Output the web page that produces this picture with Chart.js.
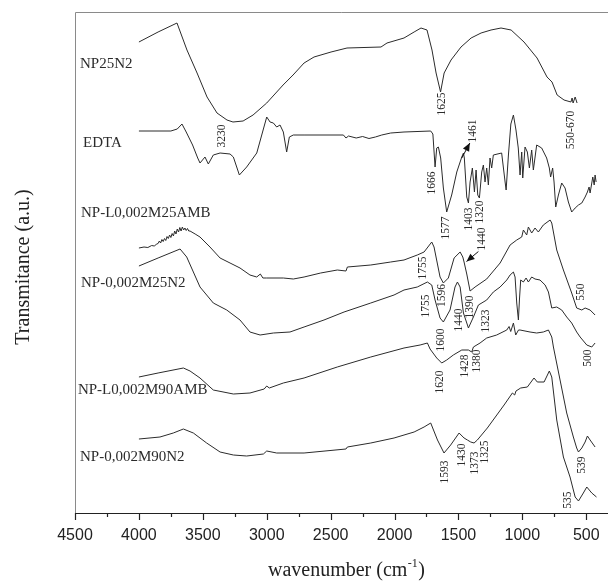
<!DOCTYPE html>
<html>
<head>
<meta charset="utf-8">
<script src="https://cdn.jsdelivr.net/npm/chart.js@4.4.0/dist/chart.umd.min.js"></script>
<style>
  html, body { margin: 0; padding: 0; background: #fff; }
</style>
</head>
<body>
<canvas id="ftir" width="608" height="583"></canvas>
<script>
"use strict"

/*----------------------------- data -------------------------------------------*/

let sampleNames = ["NP25N2", "EDTA", "NP-L0,002M25AMB", "NP-0,002M25N2", "NP-L0,002M90AMB", "NP-0,002M90N2"]

// NP25N2
let np25n2Wn = [4000, 3850, 3702, 3624, 3545, 3467, 3389, 3311, 3264, 3185, 3107, 3000, 2872, 2794, 2708, 2630, 2497, 2372, 2106, 2059, 1926, 1847, 1793, 1746, 1707, 1675, 1640, 1612, 1558, 1480, 1401, 1323, 1245, 1167, 1088, 987, 885, 807, 768, 728, 674, 620, 611, 603, 587, 572]
let np25n2T = [94.2, 96.2, 98.0, 92.6, 88.0, 83.2, 80.0, 78.6, 78.2, 78.4, 79.6, 82.0, 85.6, 87.6, 90.0, 91.2, 92.2, 93.0, 93.2, 94.0, 95.0, 96.2, 97.0, 96.6, 92.6, 88.0, 84.2, 88.0, 90.6, 93.2, 95.0, 96.0, 96.6, 97.0, 96.6, 94.2, 91.0, 87.2, 86.2, 83.6, 82.6, 82.2, 83.0, 82.0, 83.2, 82.0]

// EDTA
let edtaWn = [4000, 3750, 3700, 3663, 3630, 3580, 3540, 3522, 3483, 3457, 3418, 3365, 3287, 3261, 3214, 3157, 3078, 3000, 2974, 2948, 2922, 2896, 2870, 2844, 2823, 2792, 2708, 2400, 2380, 2360, 2300, 2250, 2200, 2150, 2100, 2030, 1926, 1717, 1700, 1683, 1670, 1657, 1639, 1618, 1592, 1553, 1513, 1474, 1461, 1454, 1435, 1422, 1409, 1391, 1375, 1362, 1349, 1336, 1318, 1305, 1292, 1279, 1266, 1253, 1240, 1227, 1162, 1135, 1127, 1109, 1090, 1070, 1050, 1032, 1018, 1005, 997, 979, 961, 945, 927, 914, 888, 849, 810, 789, 779, 763, 752, 739, 718, 692, 666, 640, 614, 587, 561, 535, 509, 491, 478, 470, 449, 438, 431, 423]
let edtaT = [76.4, 76.4, 76.8, 77.8, 76.2, 73.6, 71.0, 70.0, 71.2, 69.8, 71.6, 72.0, 71.8, 71.2, 67.6, 69.2, 72.0, 79.2, 78.2, 78.0, 77.2, 77.6, 76.2, 72.2, 75.2, 75.6, 75.6, 75.6, 75.0, 75.4, 75.0, 75.3, 74.9, 75.2, 75.6, 76.0, 76.2, 76.4, 75.8, 69.2, 73.0, 73.2, 71.0, 65.0, 60.2, 63.6, 68.2, 71.2, 72.0, 71.0, 63.2, 62.0, 66.2, 69.0, 64.2, 68.6, 63.6, 63.0, 68.2, 69.6, 66.2, 69.0, 65.6, 71.0, 69.0, 71.6, 72.0, 66.2, 64.6, 71.6, 77.8, 79.6, 76.6, 73.0, 67.6, 72.2, 67.0, 73.2, 72.2, 69.0, 72.6, 68.6, 73.6, 73.0, 71.0, 69.0, 67.2, 69.0, 66.2, 61.2, 63.6, 66.0, 65.0, 62.2, 60.2, 61.0, 61.6, 62.0, 63.2, 64.2, 65.2, 64.0, 67.2, 65.6, 67.6, 66.2]

// NP-L0,002M25AMB
let m25ambWn = [4000, 3960, 3930, 3900, 3880, 3860, 3850, 3840, 3830, 3820, 3810, 3800, 3790, 3780, 3770, 3760, 3750, 3740, 3730, 3720, 3710, 3700, 3690, 3680, 3670, 3660, 3650, 3640, 3630, 3620, 3610, 3600, 3560, 3522, 3444, 3365, 3287, 3209, 3131, 3078, 3050, 3030, 3000, 2870, 2792, 2708, 2578, 2448, 2380, 2369, 2186, 2030, 1926, 1822, 1769, 1709, 1691, 1644, 1618, 1579, 1534, 1487, 1466, 1456, 1435, 1409, 1370, 1279, 1174, 1096, 1044, 1005, 992, 966, 953, 927, 901, 875, 836, 783, 770, 731, 679, 614, 575, 535, 509, 470, 431]
let m25ambT = [53.0, 53.2, 53.1, 53.5, 53.4, 53.8, 53.9, 54.4, 54.0, 54.7, 54.3, 54.9, 54.5, 55.3, 54.9, 55.6, 55.1, 55.9, 55.4, 56.4, 55.8, 56.8, 56.2, 57.1, 56.4, 57.2, 56.6, 57.0, 56.5, 56.9, 56.4, 56.4, 55.8, 55.2, 53.2, 51.0, 50.0, 49.0, 47.6, 47.2, 47.8, 47.0, 47.0, 47.0, 46.8, 47.2, 48.0, 48.6, 48.4, 49.2, 49.6, 50.2, 50.6, 51.6, 52.2, 54.2, 53.2, 47.2, 46.0, 47.0, 51.0, 52.2, 51.2, 50.2, 47.8, 44.4, 45.2, 46.8, 50.0, 53.6, 54.6, 55.2, 56.6, 55.6, 57.2, 56.0, 57.0, 56.2, 57.6, 58.6, 58.0, 52.6, 48.6, 44.0, 41.0, 40.6, 41.0, 40.6, 39.6]

// NP-0,002M25N2
let m25n2Wn = [4000, 3850, 3678, 3626, 3522, 3418, 3313, 3209, 3131, 3052, 2948, 2818, 2708, 2552, 2395, 2186, 2004, 1926, 1822, 1743, 1709, 1683, 1644, 1618, 1566, 1527, 1508, 1487, 1461, 1422, 1383, 1344, 1279, 1227, 1174, 1122, 1096, 1070, 1057, 1044, 1031, 1023, 1013, 992, 971, 953, 927, 901, 862, 822, 796, 770, 731, 692, 653, 614, 575, 548, 496, 457, 431]
let m25n2T = [49.4, 51.0, 52.8, 51.2, 45.2, 42.0, 40.6, 38.6, 36.2, 35.6, 36.0, 36.2, 37.2, 38.6, 40.2, 42.0, 43.6, 44.6, 45.2, 46.2, 45.6, 42.6, 39.0, 38.2, 40.6, 45.2, 46.2, 45.2, 40.0, 37.0, 39.2, 41.6, 42.6, 44.2, 45.2, 46.6, 47.6, 48.2, 47.2, 42.0, 38.6, 42.6, 46.6, 46.2, 47.0, 46.2, 47.2, 46.8, 46.6, 45.6, 44.2, 41.0, 41.2, 40.6, 39.2, 38.0, 36.2, 35.2, 33.6, 33.2, 34.0]

// NP-L0,002M90AMB
let m90ambWn = [4000, 3850, 3652, 3600, 3522, 3418, 3261, 3131, 3020, 3000, 2980, 2870, 2708, 2448, 2186, 1926, 1800, 1743, 1722, 1670, 1631, 1592, 1540, 1474, 1422, 1396, 1383, 1331, 1279, 1201, 1122, 1104, 1091, 1070, 1052, 1030, 1018, 940, 888, 836, 796, 770, 757, 705, 653, 601, 575, 561, 535, 509, 491, 470, 431]
let m90ambT = [27.2, 28.0, 29.0, 28.4, 27.0, 24.6, 23.8, 24.0, 24.8, 25.4, 25.0, 26.0, 27.0, 29.2, 31.2, 33.0, 33.6, 34.0, 32.8, 31.0, 30.0, 30.6, 31.6, 32.6, 32.6, 32.2, 33.2, 34.0, 35.0, 35.6, 36.6, 37.3, 36.3, 38.0, 35.6, 36.6, 36.6, 36.2, 36.0, 36.2, 36.6, 35.2, 33.2, 26.6, 20.0, 15.2, 13.0, 12.2, 13.0, 14.2, 15.4, 14.6, 13.2]

// NP-0,002M90N2
let m90n2Wn = [4000, 3835, 3731, 3652, 3574, 3470, 3365, 3261, 3157, 3026, 3000, 2922, 2708, 2380, 2369, 2186, 2004, 1847, 1769, 1717, 1664, 1613, 1561, 1495, 1456, 1430, 1404, 1378, 1352, 1274, 1143, 1078, 1060, 1050, 1013, 961, 909, 883, 830, 789, 770, 731, 679, 627, 587, 561, 523, 496, 457, 420]
let m90n2T = [14.8, 15.2, 16.0, 16.8, 16.0, 14.0, 12.2, 11.6, 11.4, 11.8, 12.4, 12.0, 12.0, 12.8, 13.2, 14.0, 15.0, 16.2, 17.2, 18.0, 14.6, 12.0, 13.6, 16.0, 15.0, 14.6, 14.2, 14.0, 14.6, 17.0, 21.6, 24.0, 23.6, 24.4, 25.0, 25.2, 27.0, 26.2, 26.2, 28.4, 27.2, 18.6, 11.2, 7.2, 3.2, 2.4, 4.0, 5.2, 4.0, 3.2]

let tickValues = [4500, 4000, 3500, 3000, 2500, 2000, 1500, 1000, 500]

// peak labels and where they sit (wavenumber, transmittance)
let peakLabels = ["3230", "1625", "550-670", "1666", "1461", "1577", "1403", "1320", "1440", "1755", "1596", "1390", "1755", "1440", "1323", "550", "1600", "1428", "1380", "500", "1620", "1593", "1430", "1373", "1325", "539", "535"]
let peakLabelPos = [[3350, 75.4], [1628, 81.8], [619, 76.6], [1709, 66.0], [1383, 76.4], [1597, 57.0], [1415, 58.8], [1331, 60.2], [1318, 54.8], [1780, 49.0], [1628, 43.5], [1407, 41.2], [1756, 41.4], [1495, 38.6], [1286, 38.4], [543, 44.2], [1639, 34.6], [1452, 29.4], [1357, 30.4], [484, 31.0], [1644, 26.2], [1605, 8.2], [1474, 11.6], [1370, 10.0], [1292, 12.2], [535, 9.6], [640, 2.6]]

// sample name positions (left edge wavenumber, transmittance)
let sampleLabelPos = [[4461, 89.8], [4437, 74.0], [4453, 60.0], [4453, 46.0], [4477, 24.6], [4461, 11.2]]

// arrows [from wn, from T, to wn, to T]
let arrows = [[1474, 71.0, 1411, 74.0], [1344, 52.3, 1437, 50.3]]

/*----------------------------- chart -------------------------------------------*/

function toPoints(wn, t) { //slår ihop x och y
    let pts = []
    for (let i = 0; i < Math.min(wn.length, t.length); i++) {
        pts.push({ x: wn[i], y: t[i] })
    }
    return pts
}

let seriesWn = [np25n2Wn, edtaWn, m25ambWn, m25n2Wn, m90ambWn, m90n2Wn]
let seriesT = [np25n2T, edtaT, m25ambT, m25n2T, m90ambT, m90n2T]

let datasets = []
for (let s = 0; s < sampleNames.length; s++) {
    datasets.push({
        label: sampleNames[s],
        data: toPoints(seriesWn[s], seriesT[s]),
        borderColor: "#2b2b2b",
        borderWidth: 1,
        pointRadius: 0,
        tension: 0,
        fill: false
    })
}

const serif = '"Liberation Serif", "Times New Roman", serif'

const ftirExtras = {
    id: "ftirExtras",
    afterDraw(chart) {
        const { ctx, chartArea: a, scales: { x, y } } = chart
        ctx.save()

        // ram vänster + topp
        ctx.strokeStyle = "#8a8a8a"
        ctx.lineWidth = 1
        ctx.beginPath()
        ctx.moveTo(a.left + 0.5, a.bottom)
        ctx.lineTo(a.left + 0.5, a.top + 0.5)
        ctx.lineTo(a.right, a.top + 0.5)
        ctx.stroke()

        // x-axel
        ctx.strokeStyle = "#222"
        ctx.lineWidth = 1.2
        ctx.beginPath()
        ctx.moveTo(a.left, a.bottom + 0.5)
        ctx.lineTo(a.right, a.bottom + 0.5)
        ctx.stroke()

        // tick marks
        for (let w = 4500; w >= 500; w -= 250) {
            const px = Math.round(x.getPixelForValue(w)) + 0.5
            const len = w % 500 === 0 ? 7 : 4
            ctx.beginPath()
            ctx.moveTo(px, a.bottom)
            ctx.lineTo(px, a.bottom + len)
            ctx.stroke()
        }

        // tick labels
        ctx.fillStyle = "#222"
        ctx.font = '16px "Liberation Sans", Arial, sans-serif'
        ctx.textAlign = "center"
        ctx.textBaseline = "middle"
        for (const v of tickValues) {
            ctx.fillText(String(v), x.getPixelForValue(v), 536)
        }

        ctx.fillStyle = "#2b2b2b"

        // sample names
        ctx.font = "15px " + serif
        ctx.textAlign = "left"
        ctx.textBaseline = "middle"
        for (let i = 0; i < sampleNames.length; i++) {
            ctx.fillText(sampleNames[i], x.getPixelForValue(sampleLabelPos[i][0]), y.getPixelForValue(sampleLabelPos[i][1]))
        }

        // peak labels (vertical)
        ctx.font = "11.5px " + serif
        ctx.textAlign = "center"
        for (let i = 0; i < peakLabels.length; i++) {
            ctx.save()
            ctx.translate(x.getPixelForValue(peakLabelPos[i][0]), y.getPixelForValue(peakLabelPos[i][1]))
            ctx.rotate(-Math.PI / 2)
            ctx.fillText(peakLabels[i], 0, 0)
            ctx.restore()
        }

        // arrows
        ctx.strokeStyle = "#111"
        ctx.fillStyle = "#111"
        ctx.lineWidth = 1
        for (const ar of arrows) {
            const x1 = x.getPixelForValue(ar[0]), y1 = y.getPixelForValue(ar[1])
            const x2 = x.getPixelForValue(ar[2]), y2 = y.getPixelForValue(ar[3])
            const ang = Math.atan2(y2 - y1, x2 - x1)
            ctx.beginPath()
            ctx.moveTo(x1, y1)
            ctx.lineTo(x2, y2)
            ctx.stroke()
            ctx.beginPath()
            ctx.moveTo(x2, y2)
            ctx.lineTo(x2 - 8 * Math.cos(ang) + 3.5 * Math.sin(ang), y2 - 8 * Math.sin(ang) - 3.5 * Math.cos(ang))
            ctx.lineTo(x2 - 8 * Math.cos(ang) - 3.5 * Math.sin(ang), y2 - 8 * Math.sin(ang) + 3.5 * Math.cos(ang))
            ctx.closePath()
            ctx.fill()
        }

        // axis titles
        ctx.fillStyle = "#222"
        ctx.textBaseline = "alphabetic"
        ctx.textAlign = "left"
        const main = "wavenumber (cm"
        ctx.font = "20px " + serif
        const w1 = ctx.measureText(main).width
        ctx.font = "12px " + serif
        const w2 = ctx.measureText("-1").width
        ctx.font = "20px " + serif
        const w3 = ctx.measureText(")").width
        let tx = 346 - (w1 + w2 + w3) / 2
        const base = 576
        ctx.fillText(main, tx, base)
        ctx.font = "12px " + serif
        ctx.fillText("-1", tx + w1 + 0.5, base - 9)
        ctx.font = "20px " + serif
        ctx.fillText(")", tx + w1 + w2 + 1, base)

        ctx.save()
        ctx.translate(24, 267)
        ctx.rotate(-Math.PI / 2)
        ctx.textAlign = "center"
        ctx.textBaseline = "middle"
        ctx.fillText("Transmitance (a.u.)", 0, 0)
        ctx.restore()

        ctx.restore()
    }
}

new Chart(document.getElementById("ftir"), {
    type: "line",
    data: { datasets: datasets },
    options: {
        responsive: false,
        animation: false,
        layout: { padding: { left: 75, top: 12, right: 0, bottom: 70 } },
        plugins: {
            legend: { display: false },
            tooltip: { enabled: false }
        },
        scales: {
            x: { type: "linear", reverse: true, min: 330, max: 4500, display: false },
            y: { display: false, min: 0, max: 100.2 }
        }
    },
    plugins: [ftirExtras]
})
</script>
</body>
</html>
